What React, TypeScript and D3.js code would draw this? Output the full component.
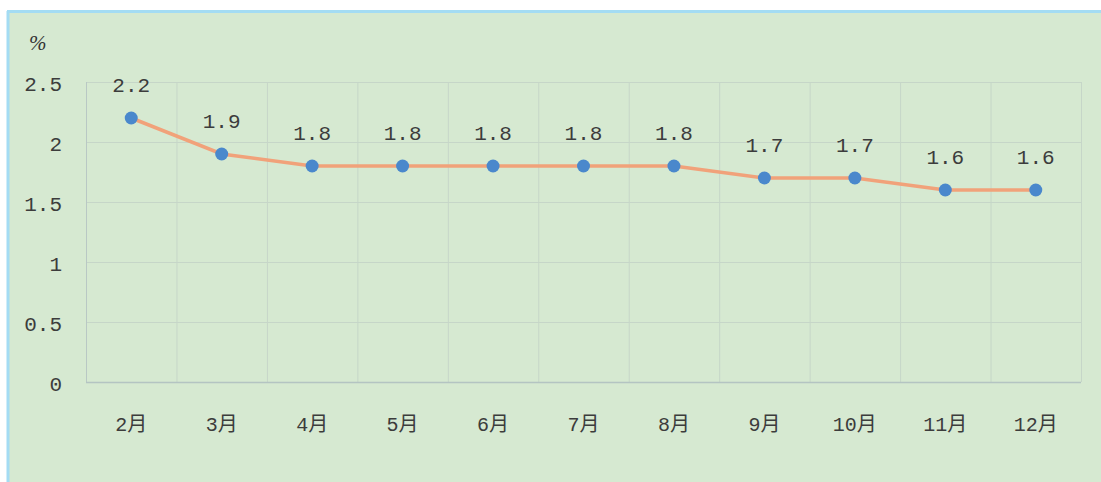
import React, { useEffect, useRef } from "react";
import * as d3 from "d3";

const months = ["2月", "3月", "4月", "5月", "6月", "7月", "8月", "9月", "10月", "11月", "12月"];
const rates = [2.2, 1.9, 1.8, 1.8, 1.8, 1.8, 1.8, 1.7, 1.7, 1.6, 1.6];
const yTicks = [0, 0.5, 1, 1.5, 2, 2.5];

const W = 1101;
const H = 482;

export default function App() {
  const ref = useRef<SVGSVGElement>(null);

  useEffect(() => {
    const svg = d3.select(ref.current);
    svg.selectAll("*").remove();

    // panel background with blue border on top and left
    svg.append("rect")
      .attr("x", 7).attr("y", 11)
      .attr("width", W - 7).attr("height", H - 11)
      .attr("fill", "#d6e9d1");
    svg.append("line")
      .attr("x1", 7).attr("x2", W).attr("y1", 11.5).attr("y2", 11.5)
      .attr("stroke", "#a4dcf3").attr("stroke-width", 3);
    svg.append("line")
      .attr("x1", 8).attr("x2", 8).attr("y1", 11).attr("y2", H)
      .attr("stroke", "#a4dcf3").attr("stroke-width", 3);

    const margin = { left: 86, right: 20, top: 82, bottom: 100 };
    const x = d3.scaleBand<string>()
      .domain(months)
      .range([margin.left, W - margin.right]);
    const y = d3.scaleLinear()
      .domain([0, 2.5])
      .range([H - margin.bottom, margin.top]);

    const g = svg.append("g");
    const numFont = "Liberation Mono, monospace";
    const textCol = "#3c3c3c";

    // horizontal grid
    g.selectAll(".hgrid")
      .data(yTicks.filter(d => d > 0))
      .enter()
      .append("line")
      .attr("x1", x.range()[0]).attr("x2", x.range()[1])
      .attr("y1", d => y(d) + 0.5).attr("y2", d => y(d) + 0.5)
      .attr("stroke", "#c6d6c8").attr("stroke-width", 1);

    // vertical grid at band edges
    const edges = months.map(m => x(m)!).concat([x.range()[1]]);
    g.selectAll(".vgrid")
      .data(edges)
      .enter()
      .append("line")
      .attr("x1", d => d + 0.5).attr("x2", d => d + 0.5)
      .attr("y1", y(2.5)).attr("y2", y(0))
      .attr("stroke", (d, i) => (i === 0 ? "#b9c8c4" : "#c6d6c8")).attr("stroke-width", 1);

    // bottom axis line
    g.append("line")
      .attr("x1", x.range()[0]).attr("x2", x.range()[1])
      .attr("y1", y(0) + 0.5).attr("y2", y(0) + 0.5)
      .attr("stroke", "#b4c4c2").attr("stroke-width", 1.5);

    // y tick labels
    g.selectAll(".ylab")
      .data(yTicks)
      .enter()
      .append("text")
      .attr("x", 62)
      .attr("y", d => y(d) + 9)
      .attr("text-anchor", "end")
      .attr("font-family", numFont)
      .attr("font-size", 21)
      .attr("fill", textCol)
      .text(d => String(d));

    // unit
    g.append("text")
      .attr("x", 29).attr("y", 50)
      .attr("font-family", "Liberation Serif, serif")
      .attr("font-style", "italic")
      .attr("font-size", 21)
      .attr("fill", "#333")
      .text("%");

    // x labels
    g.selectAll(".xlab")
      .data(months)
      .enter()
      .append("text")
      .attr("x", d => x(d)! + x.bandwidth() / 2)
      .attr("y", 431)
      .attr("text-anchor", "middle")
      .attr("font-family", "Liberation Mono, Noto Sans CJK SC, monospace")
      .attr("font-size", 20)
      .attr("fill", textCol)
      .text(d => d);

    const cx = (i: number) => x(months[i])! + x.bandwidth() / 2;

    // line
    const line = d3.line<number>()
      .x((d, i) => cx(i))
      .y(d => y(d));
    g.append("path")
      .datum(rates)
      .attr("d", line)
      .attr("fill", "none")
      .attr("stroke", "#f1a27a")
      .attr("stroke-width", 3.5);

    // markers
    g.selectAll(".dot")
      .data(rates)
      .enter()
      .append("circle")
      .attr("cx", (d, i) => cx(i))
      .attr("cy", d => y(d))
      .attr("r", 6.5)
      .attr("fill", "#4a88cc");

    // value labels
    g.selectAll(".vlab")
      .data(rates)
      .enter()
      .append("text")
      .attr("x", (d, i) => cx(i))
      .attr("y", d => y(d) - 26)
      .attr("text-anchor", "middle")
      .attr("font-family", numFont)
      .attr("font-size", 21)
      .attr("fill", textCol)
      .text(d => d.toFixed(1));
  }, []);

  return (
    <svg
      ref={ref}
      width={W}
      height={H}
      style={{ position: "absolute", left: 0, top: 0, background: "#fff" }}
    />
  );
}
